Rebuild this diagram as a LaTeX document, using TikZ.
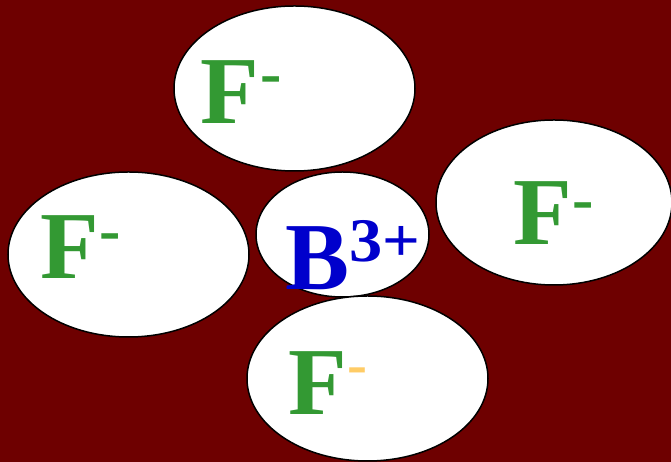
\documentclass[tikz,border=0pt]{standalone}
\usepackage{fontspec}
\setmainfont{Liberation Serif}
\usetikzlibrary{shapes.geometric}
\definecolor{bgred}{RGB}{110,0,0}
\definecolor{fgreen}{RGB}{51,153,51}
\definecolor{bblue}{RGB}{0,0,204}
\definecolor{morange}{RGB}{255,204,102}
\tikzset{
  ion/.style={ellipse, draw=black, line width=1.5pt, fill=white, inner sep=0pt},
  big/.style={ellipse, minimum width=241pt, minimum height=165pt},
  ftext/.style={anchor=base west, inner sep=0pt, text=fgreen, font=\fontsize{96}{96}\selectfont\bfseries},
  chg/.style={anchor=base west, inner sep=0pt, font=\fontsize{64}{64}\selectfont\bfseries},
}
\begin{document}
\begin{tikzpicture}[x=1pt,y=1pt]
\fill[bgred] (0,0) rectangle (671,462);
\useasboundingbox (0,0) rectangle (671,462);
\node[ion,big] (etop) at (294.5,373.5) {};
\node[ion,big] (eleft) at (128.5,207.5) {};
\node[ion,minimum width=236pt,minimum height=165pt] (eright) at (554,259.5) {};
\node[ion,minimum width=173pt,minimum height=125pt] (emid) at (342.5,227.5) {};
\node[ion,big] (ebot) at (367.5,83.5) {};
% F ions
\node[ftext] (ftop) at (200.5,338) {F};
\node[chg,text=fgreen] (ctop) at (260.3,367) {-};
\node[ftext] (fleft) at (40.5,183) {F};
\node[chg,text=fgreen] (cleft) at (99.3,210) {-};
\node[ftext] (fright) at (513.5,217) {F};
\node[chg,text=fgreen] (cright) at (572.3,241) {-};
\node[ftext] (fbot) at (288.5,47) {F};
\node[chg,text=morange,font=\fontsize{60}{60}\selectfont\bfseries] (cbot) at (347.5,77.5) {-};
% B ion
\node[anchor=base west, inner sep=0pt, text=bblue, font=\fontsize{96}{96}\selectfont\bfseries] (b) at (285.5,172) {B};
\node[anchor=base west, inner sep=0pt, text=bblue, font=\fontsize{62}{62}\selectfont\bfseries] (bchg) at (349,200) {\scalebox{1.07}[1]{3+}};
\end{tikzpicture}
\end{document}
